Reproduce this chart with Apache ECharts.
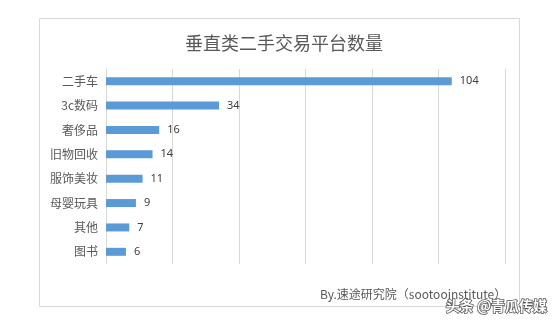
<!DOCTYPE html>
<html><head><meta charset="utf-8">
<script src="https://cdn.jsdelivr.net/npm/echarts@6/dist/echarts.min.js"></script>
<style>html,body{margin:0;padding:0;background:#fff;}#c{width:553px;height:322px;}</style>
</head><body><div id="c"></div>
<script>
const categories = ['二手车','3c数码','奢侈品','旧物回收','服饰美妆','母婴玩具','其他','图书'];
const values = [104,34,16,14,11,9,7,6];
const titleText = '垂直类二手交易平台数量';
const sourceText = 'By.速途研究院（sootooinstitute）';
const watermarkText = '头条 @青瓜传媒';

const chart = echarts.init(document.getElementById('c'));
chart.setOption({
  animation:false,
  backgroundColor:'#fff',
  title:{text:titleText,left:279,top:29,textAlign:'center',
    textStyle:{fontFamily:'Noto Sans CJK SC',fontSize:18,fontWeight:'normal',color:'#595959'}},
  graphic:[
    {type:'rect',shape:{x:39.5,y:18.5,width:480,height:288},style:{fill:'none',stroke:'#d9d9d9',lineWidth:1},silent:true,z:-1},
    {type:'text',left:320,top:288,style:{text:sourceText,font:'12px "Noto Sans CJK SC"',fill:'#595959'}},
    {type:'text',left:445,top:298,style:{text:watermarkText,font:'bold 14px "Noto Sans CJK SC"',fill:'#ffffff',stroke:'#555',lineWidth:1.5}}
  ],
  grid:{left:106,right:48,top:69,bottom:58},
  xAxis:{type:'value',min:0,max:120,interval:20,
    axisLabel:{show:false},axisLine:{show:false},axisTick:{show:false},
    splitLine:{lineStyle:{color:'#d9d9d9',width:1}}},
  yAxis:{type:'category',data:categories,inverse:true,
    axisLine:{show:true,lineStyle:{color:'#d9d9d9'}},axisTick:{show:false},
    axisLabel:{fontFamily:'Noto Sans CJK SC',fontSize:12,color:'#595959',margin:8}},
  series:[{type:'bar',data:values,barWidth:8,
    itemStyle:{color:'#5b9bd5'},
    label:{show:true,position:'right',distance:8,fontFamily:'Noto Sans',fontSize:11,color:'#404040'}}]
});
</script></body></html>
